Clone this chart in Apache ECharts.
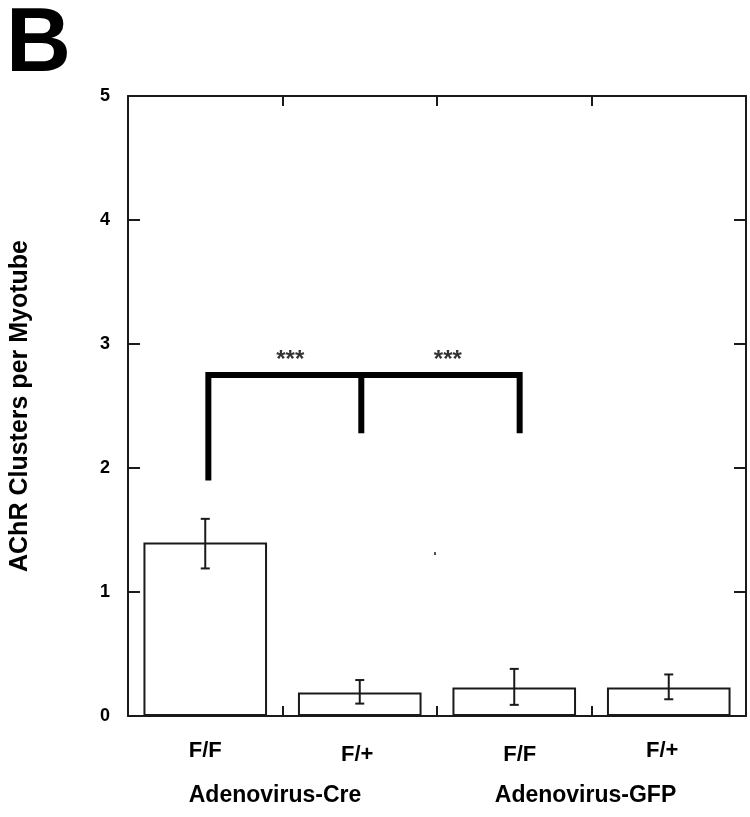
<!DOCTYPE html>
<html>
<head>
<meta charset="utf-8">
<script src="https://cdn.jsdelivr.net/npm/echarts@6/dist/echarts.min.js"></script>
<style>
html,body{margin:0;padding:0;background:#fff;}
#main{width:750px;height:817px;}
</style>
</head>
<body>
<div id="main"></div>
<script>
// ---- data ----
var categories = ['F/F', 'F/+', 'F/F', 'F/+'];
var groups = ['Adenovirus-Cre', 'Adenovirus-GFP'];
var means = [1.40, 0.19, 0.23, 0.23];
var errLow = [1.19, 0.10, 0.09, 0.135];
var errHigh = [1.59, 0.29, 0.38, 0.335];
var yTicks = [0, 1, 2, 3, 4, 5];
// significance bracket (x in category-index units, y in axis units)
var bracketOuter = [[0.02, 1.90], [0.02, 2.75], [2.035, 2.75], [2.035, 2.28]];
var bracketMiddle = [[1.01, 2.75], [1.01, 2.28]];
var starMarks = [[0.55, 2.87, '***'], [1.57, 2.87, '***']];
var strayDot = [[1.487, 1.31]];

var FONT = '"Liberation Sans", Arial, Helvetica, sans-serif';
var INK = '#1a1a1a';

var chart = echarts.init(document.getElementById('main'));

var catRich = {
  l0: { padding: [0, 0, 0, 0] },
  l1: { padding: [4, 5, 0, 0] },
  l2: { padding: [4, 0, 0, 11] },
  l3: { padding: [0, 13, 0, 0] }
};
['l0','l1','l2','l3'].forEach(function (k) {
  catRich[k].fontSize = 22; catRich[k].fontWeight = 'bold';
  catRich[k].fontFamily = FONT; catRich[k].color = '#000';
});
var grpRich = {
  g0: { padding: [0, 15, 0, 0] },
  g1: { padding: [0, 12, 0, 0] }
};
['g0','g1'].forEach(function (k) {
  grpRich[k].fontSize = 23; grpRich[k].fontWeight = 'bold';
  grpRich[k].fontFamily = FONT; grpRich[k].color = '#000';
});

var option = {
  animation: false,
  backgroundColor: '#fff',
  graphic: [{
    type: 'text', left: 6, top: 1,
    style: { text: 'B', fontSize: 90, fontWeight: 'bold', fontFamily: FONT, fill: '#000' }
  }],
  grid: { left: 125, right: 4, top: 96, bottom: 101, containLabel: false },
  xAxis: [
    {
      type: 'category', data: categories, position: 'bottom',
      axisLine: { show: true, onZero: false, lineStyle: { color: INK, width: 2 } },
      axisTick: { show: true, inside: true, length: 10, lineStyle: { color: INK, width: 2 } },
      axisLabel: {
        margin: 24,
        formatter: function (v, i) { return '{l' + i + '|' + v + '}'; },
        rich: catRich
      },
      splitLine: { show: false }
    },
    {
      type: 'category', data: categories, position: 'top',
      axisLine: { show: true, onZero: false, lineStyle: { color: INK, width: 2 } },
      axisTick: { show: true, inside: true, length: 10, lineStyle: { color: INK, width: 2 } },
      axisLabel: { show: false },
      splitLine: { show: false }
    },
    {
      type: 'category', data: groups, position: 'bottom', offset: 0,
      axisLine: { show: false, onZero: false }, axisTick: { show: false },
      axisLabel: {
        margin: 68,
        formatter: function (v, i) { return '{g' + i + '|' + v + '}'; },
        rich: grpRich
      }
    },
    {
      type: 'value', min: -0.5, max: 3.5, show: false,
      axisLine: { onZero: false }
    }
  ],
  yAxis: [
    {
      type: 'value', min: 0, max: 5, interval: 1, position: 'left',
      name: 'AChR Clusters per Myotube', nameLocation: 'middle', nameGap: 95,
      nameTextStyle: { fontSize: 25, fontWeight: 'bold', fontFamily: FONT, color: '#000' },
      axisLine: { show: true, onZero: false, lineStyle: { color: INK, width: 2 } },
      axisTick: { show: true, inside: true, length: 12, lineStyle: { color: INK, width: 2 } },
      axisLabel: {
        margin: 18, fontSize: 18, fontWeight: 'bold', fontFamily: FONT, color: '#000',
        formatter: function (v) { return yTicks.indexOf(v) >= 0 ? String(v) : ''; }
      },
      splitLine: { show: false }
    },
    {
      type: 'value', min: 0, max: 5, interval: 1, position: 'right',
      axisLine: { show: true, onZero: false, lineStyle: { color: INK, width: 2 } },
      axisTick: { show: true, inside: true, length: 12, lineStyle: { color: INK, width: 2 } },
      axisLabel: { show: false },
      splitLine: { show: false }
    }
  ],
  series: [
    {
      type: 'bar', xAxisIndex: 0, yAxisIndex: 0, data: means, barWidth: '80%',
      itemStyle: { color: '#fff', borderColor: INK, borderWidth: 2 }
    },
    {
      type: 'custom', xAxisIndex: 0, yAxisIndex: 0,
      data: means.map(function (m, i) { return [i, errLow[i], errHigh[i]]; }),
      renderItem: function (params, api) {
        var lo = api.coord([api.value(0), api.value(1)]);
        var hi = api.coord([api.value(0), api.value(2)]);
        var w = 4.5;
        var st = { stroke: INK, lineWidth: 2 };
        return {
          type: 'group', children: [
            { type: 'line', shape: { x1: lo[0], y1: lo[1], x2: hi[0], y2: hi[1] }, style: st },
            { type: 'line', shape: { x1: lo[0] - w, y1: lo[1], x2: lo[0] + w, y2: lo[1] }, style: st },
            { type: 'line', shape: { x1: hi[0] - w, y1: hi[1], x2: hi[0] + w, y2: hi[1] }, style: st }
          ]
        };
      },
      z: 5
    },
    {
      type: 'line', xAxisIndex: 3, yAxisIndex: 0, data: bracketOuter,
      symbol: 'none', lineStyle: { color: '#000', width: 6, cap: 'butt', join: 'miter' }, z: 6
    },
    {
      type: 'line', xAxisIndex: 3, yAxisIndex: 0, data: bracketMiddle,
      symbol: 'none', lineStyle: { color: '#000', width: 6, cap: 'butt' }, z: 6
    },
    {
      type: 'scatter', xAxisIndex: 3, yAxisIndex: 0, data: starMarks,
      symbolSize: 0,
      label: {
        show: true, position: 'inside',
        formatter: function (p) { return p.data[2]; },
        fontSize: 24, fontWeight: 'bold', fontFamily: FONT, color: '#000'
      }, z: 7
    },
    {
      type: 'scatter', xAxisIndex: 3, yAxisIndex: 0, data: strayDot,
      symbol: 'rect', symbolSize: [2, 3], itemStyle: { color: '#222' }
    }
  ]
};
chart.setOption(option);
</script>
</body>
</html>
